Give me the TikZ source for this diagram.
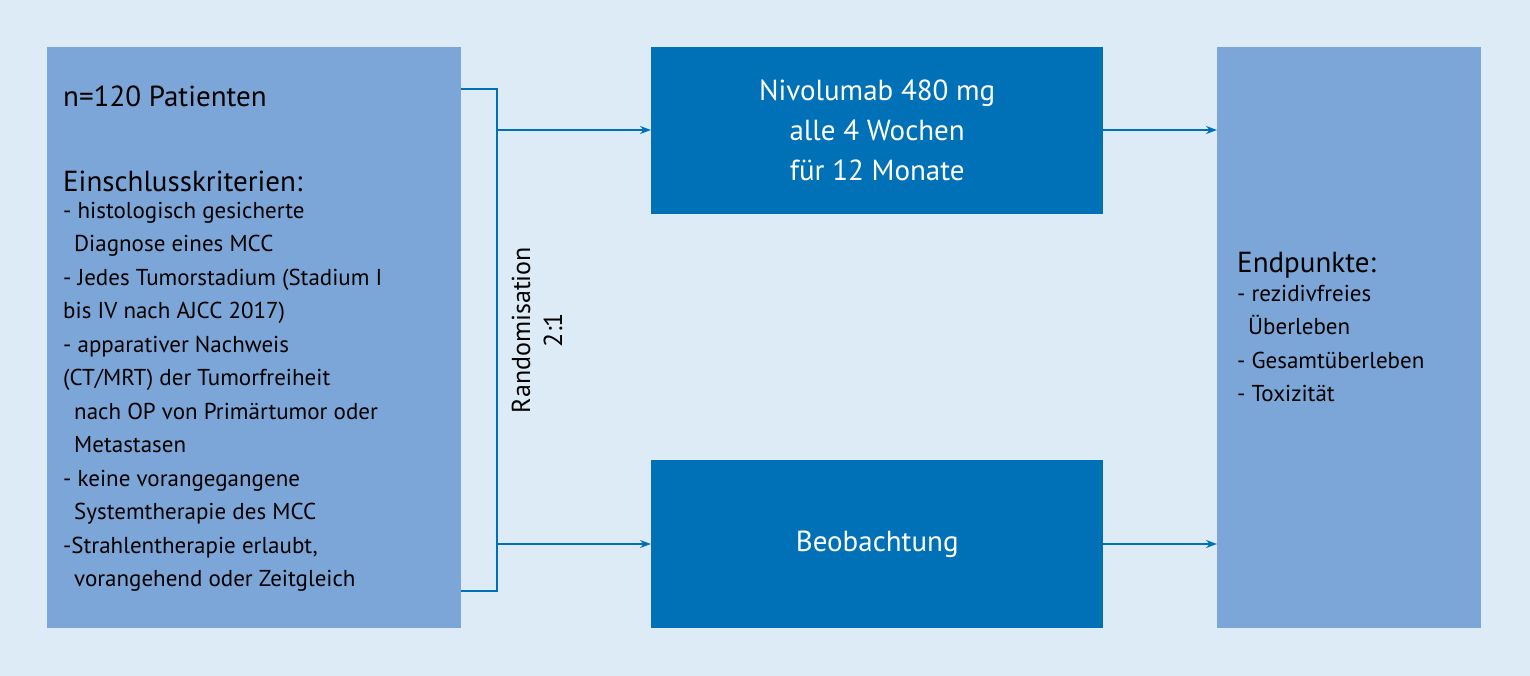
\documentclass[tikz,border=0pt]{standalone}
\usepackage{fontspec}
\setmainfont{PT Sans}
\usetikzlibrary{arrows.meta}
\definecolor{bg}{HTML}{DDEBF7}
\definecolor{light}{HTML}{7BA6D7}
\definecolor{dark}{HTML}{0071B6}
\begin{document}
\begin{tikzpicture}[x=1pt,y=-1pt,
  lbox/.style={fill=light,draw=none},
  dbox/.style={fill=dark,draw=none},
  conn/.style={draw=dark,line width=1.6pt},
  arr/.style={conn,-{Stealth[length=11pt,width=8pt]}},
  txt/.style={font=\fontsize{23}{33.5}\selectfont,align=left,inner sep=0,anchor=north west}]
\fill[bg] (0,0) rectangle (1530,676);
\useasboundingbox (0,0) rectangle (1530,676);
\path[lbox] (47,47) rectangle (461,628);
\node[lbox,minimum width=414pt,minimum height=581pt,anchor=north west,inner sep=0] (L) at (47,47) {};
\node[dbox,minimum width=452pt,minimum height=167pt,anchor=north west,inner sep=0] (T) at (651,47) {};
\node[dbox,minimum width=452pt,minimum height=168pt,anchor=north west,inner sep=0] (B) at (651,460) {};
\node[lbox,minimum width=264pt,minimum height=581pt,anchor=north west,inner sep=0] (R) at (1217,47) {};
\node[font=\fontsize{29}{35}\selectfont,anchor=west,inner sep=0] (n) at (63,96) {n=120 Patienten};
\node[font=\fontsize{29}{35}\selectfont,anchor=west,inner sep=0] (e) at (63,181) {Einschlusskriterien:};
\node[txt] (list) at (63,202) {- histologisch gesicherte\\
\hspace*{11pt}Diagnose eines MCC\\
- Jedes Tumorstadium (Stadium I\\
bis IV nach AJCC 2017)\\
- apparativer Nachweis\\
(CT/MRT) der Tumorfreiheit\\
\hspace*{11pt}nach OP von Primärtumor oder\\
\hspace*{11pt}Metastasen\\
- keine vorangegangene\\
\hspace*{11pt}Systemtherapie des MCC\\
-Strahlentherapie erlaubt,\\
\hspace*{11pt}vorangehend oder Zeitgleich};
\node[font=\fontsize{29}{40}\selectfont,align=center,text=white] (tt) at (T.center) {Nivolumab 480 mg\\alle 4 Wochen\\für 12 Monate};
\node[font=\fontsize{29}{35}\selectfont,text=white] (bt) at (B.center) {Beobachtung};
\node[font=\fontsize{29}{35}\selectfont,anchor=west,inner sep=0] (ep) at (1237,265) {Endpunkte:};
\node[txt] (el) at (1237,285) {- rezidivfreies\\
\hspace*{11pt}Überleben\\
- Gesamtüberleben\\
- Toxizität};
\node[font=\fontsize{26}{32}\selectfont,align=center,rotate=90] (rand) at (537,330) {Randomisation\\2:1};
\coordinate (b1) at (461,89);
\coordinate (b2) at (497,89);
\coordinate (b3) at (497,591);
\coordinate (b4) at (461,591);
\coordinate (s1) at (497,130);
\coordinate (s2) at (497,544);
\draw[conn] (b1) -- (b2) -- (b3) -- (b4);
\draw[arr] (s1) -- (T.west |- s1);
\draw[arr] (s2) -- (B.west |- s2);
\draw[arr] (T.east |- s1) -- (R.west |- s1);
\draw[arr] (B.east |- s2) -- (R.west |- s2);
\end{tikzpicture}
\end{document}
